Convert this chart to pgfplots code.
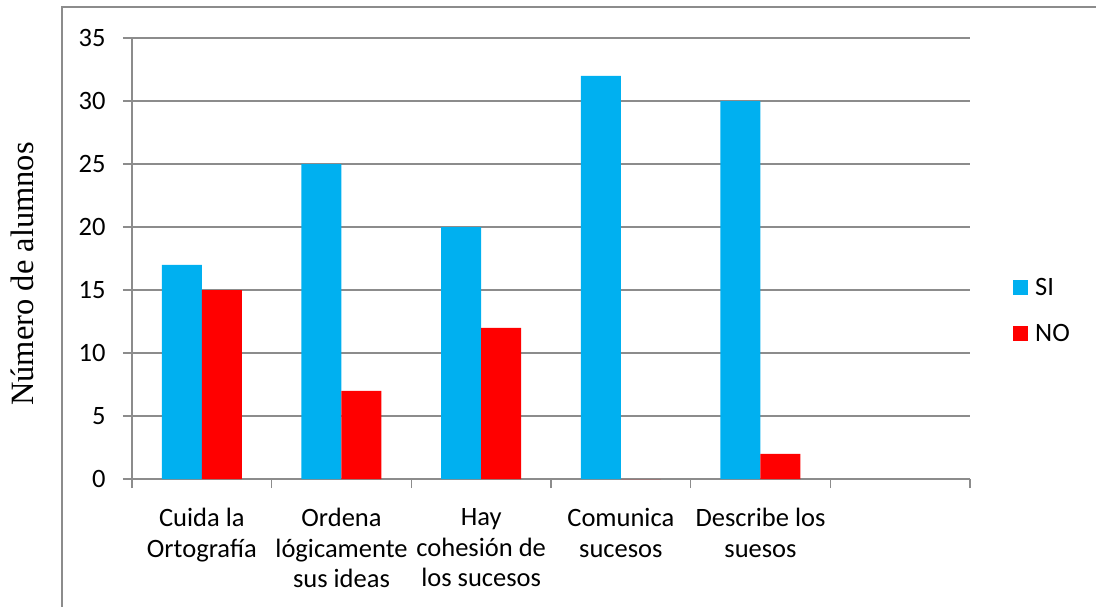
\documentclass[border=0pt]{standalone}
\usepackage{pgfplots}
\pgfplotsset{compat=1.18}
\usepackage{fontspec}
\setmainfont{Carlito}
\newfontfamily\timesfont{Liberation Serif}
\definecolor{siblue}{HTML}{00B0F0}
\definecolor{nored}{HTML}{FF0000}
\definecolor{gridgray}{HTML}{8C8C8C}
\begin{document}
\begin{tikzpicture}
\path[use as bounding box] (0pt,0pt) rectangle (1096pt,-606pt);
\draw[gridgray, line width=2pt] (62pt,-612pt) -- (62pt,-7pt) -- (1102pt,-7pt);
\begin{axis}[
  at={(132pt,-479pt)}, anchor=south west,
  scale only axis, width=838pt, height=441pt,
  xmin=-0.5, xmax=5.5, ymin=0, ymax=35,
  axis x line=bottom, axis y line=left,
  axis line style={gridgray, line width=1.3pt, -},
  ytick={0,5,...,35}, ymajorgrids,
  major grid style={gridgray, line width=1.3pt},
  xtick={-0.5,0.5,...,5.5}, x tick label as interval,
  xticklabels={{Cuida la\\Ortografía},{Ordena\\lógicamente\\sus ideas},{Hay\\cohesión de\\los sucesos},{Comunica\\sucesos},{Describe los\\suesos},{}},
  xticklabel style={align=center, yshift=-17pt, font=\fontsize{26.5}{30.5}\selectfont},
  yticklabel style={xshift=-14pt, font=\fontsize{26.5}{30.5}\selectfont},
  tick align=outside, major tick length=9pt,
  tick style={gridgray, line width=1.3pt},
  /pgf/number format/assume math mode=true,
  ybar=0pt, bar width=40pt,
  ylabel={Número de alumnos},
  every axis y label/.style={at={(axis description cs:0,0.5)}, xshift=-98pt, yshift=-15.5pt, rotate=90, anchor=base, font=\timesfont\fontsize{32.5}{38}\selectfont},
  legend cell align=left,
  legend style={at={(1,0.5)}, anchor=west, xshift=43pt, yshift=-52pt, draw=none, fill=none, font=\fontsize{26.5}{30.5}\selectfont, row sep=28pt, inner sep=0pt, nodes={inner xsep=2pt, inner ysep=0pt}, /tikz/every odd column/.append style={column sep=5pt}},
  legend image code/.code={\fill[#1] (0pt,-7.5pt) rectangle (15pt,7.5pt);},
]
\addplot[fill=siblue, draw=none] coordinates {(0,17) (1,25) (2,20) (3,32) (4,30)};
\addplot[fill=nored, draw=none] coordinates {(0,15) (1,7) (2,12) (3,0) (4,2)};
\legend{SI,NO}
\end{axis}
\end{tikzpicture}
\end{document}
